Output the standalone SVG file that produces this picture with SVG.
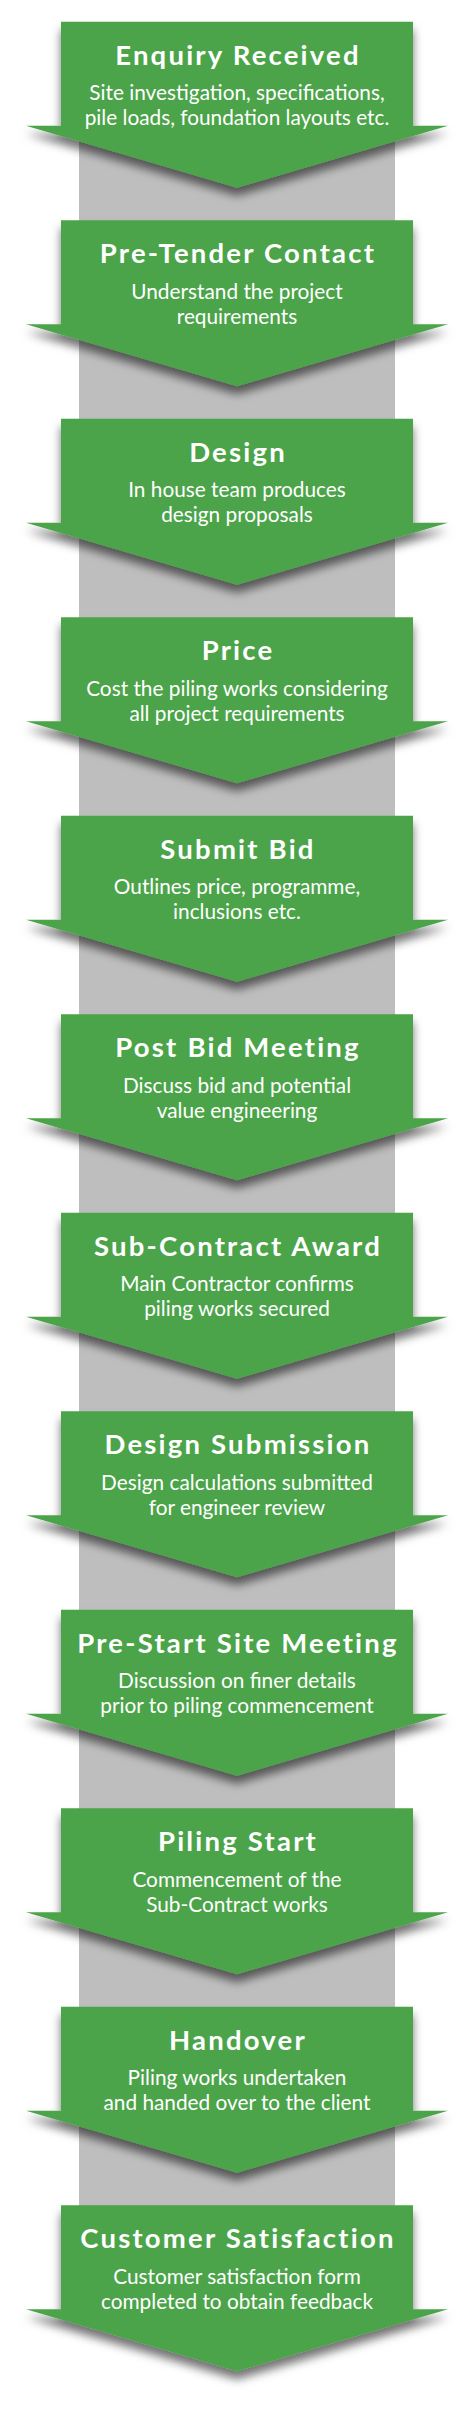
<svg xmlns="http://www.w3.org/2000/svg" width="474" height="2411" viewBox="0 0 474 2411">
<defs>
<filter id="sh" x="-20%" y="-20%" width="140%" height="160%">
<feDropShadow dx="0" dy="8" stdDeviation="5" flood-color="#000" flood-opacity="0.55"/>
</filter>
<polygon id="arrow" points="61,0 413,0 413,104 448,104 237,166 26,104 61,104"/>
</defs>
<style>
.a{fill:#4ca448;filter:url(#sh)}
.t{font-family:Lato,"Liberation Sans",sans-serif;font-weight:bold;font-size:27.5px;letter-spacing:2.2px;fill:#fff;text-anchor:middle}
.s{font-family:Lato,"Liberation Sans",sans-serif;font-size:20.8px;fill:#fff;text-anchor:middle}
</style>
<rect width="474" height="2411" fill="#fff"/>
<g id="spine">
<rect x="79" y="40" width="316" height="2230" fill="#bebebe"/>
</g>
<g id="n1" transform="translate(0,21.7)"><use href="#arrow" class="a"/><text class="t" x="238" y="43">Enquiry Received</text><text class="s" x="237" y="78.5">Site investigation, specifications,</text><text class="s" x="237" y="103.5">pile loads, foundation layouts etc.</text></g>
<g id="n2" transform="translate(0,220.2)"><use href="#arrow" class="a"/><text class="t" x="238" y="43">Pre-Tender Contact</text><text class="s" x="237" y="78.5">Understand the project</text><text class="s" x="237" y="103.5">requirements</text></g>
<g id="n3" transform="translate(0,418.7)"><use href="#arrow" class="a"/><text class="t" x="238" y="43">Design</text><text class="s" x="237" y="78.5">In house team produces</text><text class="s" x="237" y="103.5">design proposals</text></g>
<g id="n4" transform="translate(0,617.2)"><use href="#arrow" class="a"/><text class="t" x="238" y="43">Price</text><text class="s" x="237" y="78.5">Cost the piling works considering</text><text class="s" x="237" y="103.5">all project requirements</text></g>
<g id="n5" transform="translate(0,815.7)"><use href="#arrow" class="a"/><text class="t" x="238" y="43">Submit Bid</text><text class="s" x="237" y="78.5">Outlines price, programme,</text><text class="s" x="237" y="103.5">inclusions etc.</text></g>
<g id="n6" transform="translate(0,1014.2)"><use href="#arrow" class="a"/><text class="t" x="238" y="43">Post Bid Meeting</text><text class="s" x="237" y="78.5">Discuss bid and potential</text><text class="s" x="237" y="103.5">value engineering</text></g>
<g id="n7" transform="translate(0,1212.7)"><use href="#arrow" class="a"/><text class="t" x="238" y="43">Sub-Contract Award</text><text class="s" x="237" y="78.5">Main Contractor confirms</text><text class="s" x="237" y="103.5">piling works secured</text></g>
<g id="n8" transform="translate(0,1411.2)"><use href="#arrow" class="a"/><text class="t" x="238" y="43">Design Submission</text><text class="s" x="237" y="78.5">Design calculations submitted</text><text class="s" x="237" y="103.5">for engineer review</text></g>
<g id="n9" transform="translate(0,1609.7)"><use href="#arrow" class="a"/><text class="t" x="238" y="43">Pre-Start Site Meeting</text><text class="s" x="237" y="78.5">Discussion on finer details</text><text class="s" x="237" y="103.5">prior to piling commencement</text></g>
<g id="n10" transform="translate(0,1808.2)"><use href="#arrow" class="a"/><text class="t" x="238" y="43">Piling Start</text><text class="s" x="237" y="78.5">Commencement of the</text><text class="s" x="237" y="103.5">Sub-Contract works</text></g>
<g id="n11" transform="translate(0,2006.7)"><use href="#arrow" class="a"/><text class="t" x="238" y="43">Handover</text><text class="s" x="237" y="78.5">Piling works undertaken</text><text class="s" x="237" y="103.5">and handed over to the client</text></g>
<g id="n12" transform="translate(0,2205.2)"><use href="#arrow" class="a"/><text class="t" x="238" y="43">Customer Satisfaction</text><text class="s" x="237" y="78.5">Customer satisfaction form</text><text class="s" x="237" y="103.5">completed to obtain feedback</text></g>
</svg>
